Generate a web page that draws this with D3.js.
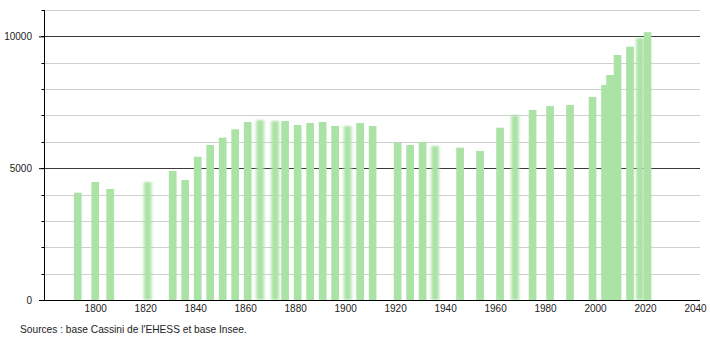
<!DOCTYPE html>
<html>
<head>
	<meta charset="UTF-8" />
	<title>population</title>
	<script src="https://d3js.org/d3.v7.min.js"></script>
	<style>
		body { margin: 0; background: #fff; }
		text { font-family: "Liberation Sans", Arial, sans-serif; }
	</style>
</head>
<body>
	<svg id="chart" width="710" height="340"></svg>

	<script type="text/javascript">
	// census years and population
	years = [1793,1800,1806,1821,1831,1836,1841,1846,1851,1856,
		1861,1866,1872,1876,1881,1886,1891,1896,1901,1906,
		1911,1921,1926,1931,1936,1946,1954,1962,1968,1975,
		1982,1990,1999,2004,2006,2009,2014,2018,2021]
	population = [4071,4476,4211,4476,4894,4552,5436,5880,6157,6476,
		6753,6829,6791,6791,6639,6715,6753,6601,6601,6715,
		6601,5983,5880,5994,5842,5778,5653,6536,7007,7208,
		7360,7398,7701,8156,8535,9294,9609,9940,10160]
	xTicks = [1800,1820,1840,1860,1880,1900,1920,1940,1960,1980,2000,2020,2040]
	yLabels = [0,5000,10000]
	yGrid = [1000,2000,3000,4000,5000,6000,7000,8000,9000,10000,11000]
	sourceText = "Sources : base Cassini de l'EHESS et base Insee."

	// bars that look smudged in the original picture
	blurredYears = [1821,1866,1872,1901,1936,1968,2018]

	barColor = "#abe2a6"
	gridLight = "#cfcfcf"
	gridDark = "#3a3a3a"

	var svg = d3.select("#chart")
	var plotLeft = 44, plotRight = 700, plotTop = 10, plotBottom = 300

	var xScale = d3.scaleLinear().domain([1779.5, 2042]).range([plotLeft, plotRight])
	var yScale = d3.scaleLinear().domain([0, 11000]).range([plotBottom, plotTop])

	var defs = svg.append("defs")
	defs.append("filter").attr("id", "smudge")
		.attr("x", "-60%").attr("y", "-5%").attr("width", "220%").attr("height", "110%")
		.append("feGaussianBlur").attr("stdDeviation", "1.7 0.8")

	// grid
	svg.append("g").selectAll("line").data(yGrid).join("line")
		.attr("x1", plotLeft).attr("x2", plotRight)
		.attr("y1", d => Math.round(yScale(d)) + 0.5)
		.attr("y2", d => Math.round(yScale(d)) + 0.5)
		.style("stroke", d => d % 5000 == 0 ? gridDark : gridLight)
		.style("stroke-width", 1)

	// bars
	var barW = 7.7
	svg.append("g").selectAll("rect").data(years).join("rect")
		.attr("x", d => xScale(d) - barW / 2)
		.attr("width", barW)
		.attr("y", (d, i) => yScale(population[i]))
		.attr("height", (d, i) => yScale(0) - yScale(population[i]))
		.style("fill", barColor)
		.attr("filter", d => blurredYears.includes(d) ? "url(#smudge)" : null)

	// y axis: minor ticks at every gridline, longer ones at labels
	svg.append("g").selectAll("line").data(yGrid).join("line")
		.attr("x1", plotLeft - 2.5).attr("x2", plotLeft)
		.attr("y1", d => Math.round(yScale(d)) + 0.5)
		.attr("y2", d => Math.round(yScale(d)) + 0.5)
		.style("stroke", "#000")

	var yAxis = d3.axisLeft(yScale).tickValues(yLabels).tickSize(5).tickPadding(7)
		.tickFormat(d3.format("d"))
	svg.append("g").attr("transform", `translate(${plotLeft},0)`).call(yAxis)
		.call(g => g.select(".domain").remove())
		.call(g => g.selectAll("text").style("font-size", "10px").style("fill", "#222")
			.style("font-family", "'Liberation Sans', Arial, sans-serif"))
		.call(g => g.selectAll("line").style("stroke", "#000"))

	svg.append("line")
		.attr("x1", plotLeft + 0.5).attr("x2", plotLeft + 0.5)
		.attr("y1", plotTop).attr("y2", plotBottom + 0.5)
		.style("stroke", "#000")

	// x axis
	var xAxis = d3.axisBottom(xScale).tickValues(xTicks).tickSize(0).tickPadding(5)
		.tickFormat(d3.format("d"))
	svg.append("g").attr("transform", `translate(0,${plotBottom})`).call(xAxis)
		.call(g => g.select(".domain").remove())
		.call(g => g.selectAll("text").style("font-size", "10px").style("fill", "#222")
			.style("font-family", "'Liberation Sans', Arial, sans-serif"))

	svg.append("line")
		.attr("x1", plotLeft).attr("x2", plotRight)
		.attr("y1", plotBottom + 0.5).attr("y2", plotBottom + 0.5)
		.style("stroke", "#000")

	// source
	svg.append("text")
		.attr("x", 20).attr("y", 333)
		.style("font-size", "10.2px").style("fill", "#222")
		.text(sourceText)
	</script>
</body>
</html>
